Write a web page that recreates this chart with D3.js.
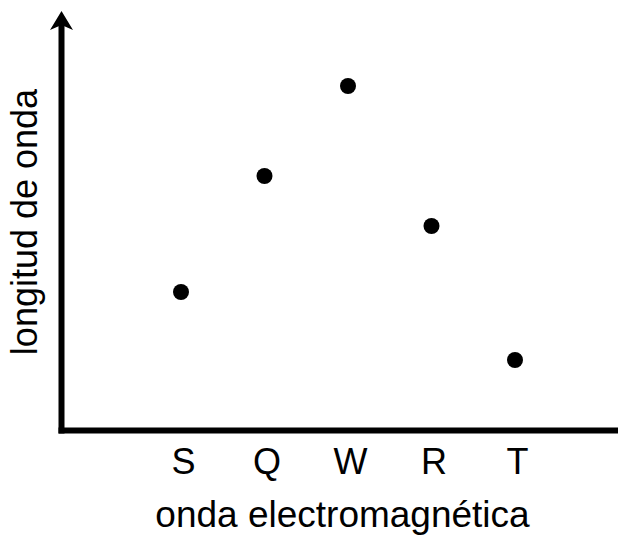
<!DOCTYPE html>
<html>
<head>
<meta charset="utf-8">
<script src="https://cdn.jsdelivr.net/npm/d3@7"></script>
<style>
html,body{margin:0;padding:0;background:#fff;}
svg{display:block;}
text{font-family:"Liberation Sans",Arial,Helvetica,sans-serif;fill:#000;}
</style>
</head>
<body>
<svg id="chart" width="618" height="535"></svg>
<script>
const categories = ["S", "Q", "W", "R", "T"];
const values = [34.5, 63.5, 86, 51, 17.5];
const xTitle = "onda electromagnética";
const yTitle = "longitud de onda";

const svg = d3.select("#chart");
const W = 618, H = 535;
const axisX = 61.5, axisY = 430.5;

const x = d3.scalePoint().domain(categories).range([181, 515]);
const y = d3.scaleLinear().domain([0, 100]).range([430, 30]);

// axes lines
svg.append("line")
  .attr("x1", axisX).attr("x2", axisX)
  .attr("y1", axisY + 3).attr("y2", 24)
  .attr("stroke", "#000").attr("stroke-width", 6);
svg.append("line")
  .attr("x1", axisX - 3).attr("x2", W)
  .attr("y1", axisY).attr("y2", axisY)
  .attr("stroke", "#000").attr("stroke-width", 6);
// arrow head
svg.append("path")
  .attr("d", `M${axisX},11 L${axisX + 11.5},30 L${axisX},25 L${axisX - 11.5},30 Z`)
  .attr("fill", "#000");

// x tick labels
const xAxis = d3.axisBottom(x).tickSize(0).tickPadding(0);
const gx = svg.append("g").attr("transform", `translate(2,${axisY})`).call(xAxis);
gx.select(".domain").remove();
gx.selectAll("text")
  .attr("dy", null).attr("y", 43.5)
  .style("font-size", "36px")
  .attr("fill", "#000");

// points
svg.append("g").selectAll("circle")
  .data(categories.map((c, i) => ({c, v: values[i]})))
  .join("circle")
  .attr("cx", d => x(d.c))
  .attr("cy", d => y(d.v))
  .attr("r", 8)
  .attr("fill", "#000");

// titles
svg.append("text")
  .attr("x", 342.5).attr("y", 526.5)
  .attr("text-anchor", "middle")
  .style("font-size", "37px")
  .text(xTitle);
svg.append("text")
  .attr("transform", "translate(37,222) rotate(-90)")
  .attr("text-anchor", "middle")
  .style("font-size", "36px")
  .text(yTitle);
</script>
</body>
</html>
